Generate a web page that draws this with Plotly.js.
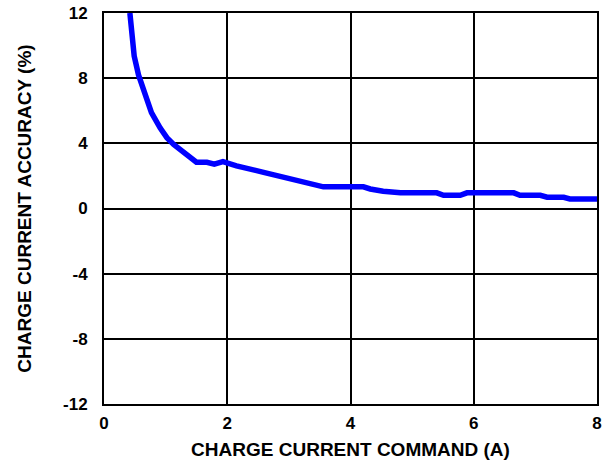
<!DOCTYPE html>
<html>
<head>
<meta charset="utf-8">
<script src="https://cdn.plot.ly/plotly-3.0.1.min.js"></script>
<style>html,body{margin:0;padding:0;background:#fff;}#chart{width:609px;height:460px;}</style>
</head>
<body>
<div id="chart"></div>
<script>
const commandA = [0.42, 0.49, 0.56, 0.64, 0.77, 0.91, 1.02, 1.13, 1.34, 1.50, 1.67, 1.79, 1.93, 2.15, 2.59, 3.02, 3.30, 3.56, 4.21, 4.32, 4.53, 4.81, 5.40, 5.51, 5.78, 5.89, 6.65, 6.75, 7.08, 7.19, 7.46, 7.56, 8.00];
const accuracyPct = [12.0, 9.36, 8.2, 7.3, 5.88, 4.95, 4.35, 3.93, 3.31, 2.84, 2.84, 2.72, 2.88, 2.62, 2.22, 1.85, 1.62, 1.33, 1.33, 1.2, 1.06, 0.96, 0.96, 0.81, 0.81, 0.96, 0.96, 0.81, 0.81, 0.69, 0.69, 0.59, 0.59];
const xTickVals = [0, 2, 4, 6, 8];
const xTickText = ["0", "2", "4", "6", "8"];
const yTickVals = [-12, -8, -4, 0, 4, 8, 12];
const yTickText = ["-12", "-8", "-4", "0", "4", "8", "12"];

const fontFam = "Liberation Sans, Arial, Helvetica, sans-serif";
const trace = {
  x: commandA, y: accuracyPct, type: 'scatter', mode: 'lines',
  line: {color: '#0000ff', width: 5.5, shape: 'linear'},
  hoverinfo: 'skip'
};
const layout = {
  width: 609, height: 460,
  margin: {l: 104, r: 12, t: 13, b: 56},
  paper_bgcolor: '#fff', plot_bgcolor: '#fff',
  showlegend: false,
  font: {family: fontFam, size: 16, color: '#000', weight: 'bold'},
  xaxis: {
    range: [0, 8], tickvals: xTickVals, ticktext: xTickText,
    showgrid: true, gridcolor: '#000', gridwidth: 2,
    showline: true, linecolor: '#000', linewidth: 2, mirror: true,
    zeroline: false, ticks: '', ticklen: 0, ticklabelstandoff: 3,
    tickfont: {family: fontFam, size: 17, color: '#000', weight: 'bold'},
    title: {text: 'CHARGE CURRENT COMMAND (A)', font: {family: fontFam, size: 19, color: '#000', weight: 'bold'}, standoff: 14}
  },
  yaxis: {
    range: [-12, 12], tickvals: yTickVals, ticktext: yTickText,
    showgrid: true, gridcolor: '#000', gridwidth: 2,
    showline: true, linecolor: '#000', linewidth: 2, mirror: true,
    zeroline: false, ticks: '', ticklen: 0, ticklabelstandoff: 11,
    tickfont: {family: fontFam, size: 17, color: '#000', weight: 'bold'},
    title: {text: 'CHARGE CURRENT ACCURACY (%)', font: {family: fontFam, size: 19, color: '#000', weight: 'bold'}, standoff: 26}
  }
};
Plotly.newPlot('chart', [trace], layout, {displayModeBar: false, staticPlot: true});
</script>
</body>
</html>
